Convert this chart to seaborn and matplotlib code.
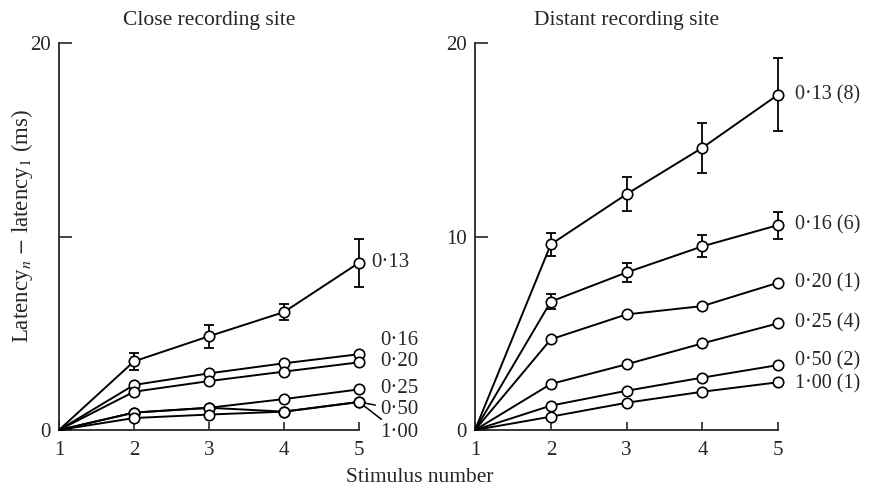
import numpy as np
import pandas as pd
import seaborn as sns
import matplotlib.pyplot as plt

sns.set_style("ticks")
plt.rcParams["font.family"] = ["Liberation Serif", "DejaVu Serif"]
plt.rcParams["mathtext.fontset"] = "stix"

stim = [1, 2, 3, 4, 5]

# close recording site
close_ratios = ["0·13", "0·16", "0·20", "0·25", "0·50", "1·00"]
close_013 = [0, 3.55, 4.85, 6.1, 8.65]
close_016 = [0, 2.33, 2.93, 3.45, 3.92]
close_020 = [0, 1.98, 2.53, 3.02, 3.5]
close_025 = [0, 0.9, 1.15, 1.6, 2.1]
close_050 = [0, 0.9, 1.15, 0.95, 1.45]
close_100 = [0, 0.62, 0.8, 0.95, 1.45]
close_013_err = [0, 0.45, 0.6, 0.42, 1.25]
close_yticklabels = ["0", "", "20"]

# distant recording site
dist_ratios = ["0·13 (8)", "0·16 (6)", "0·20 (1)", "0·25 (4)", "0·50 (2)", "1·00 (1)"]
dist_013 = [0, 9.6, 12.2, 14.6, 17.35]
dist_016 = [0, 6.64, 8.15, 9.5, 10.6]
dist_020 = [0, 4.69, 5.98, 6.41, 7.62]
dist_025 = [0, 2.38, 3.4, 4.48, 5.52]
dist_050 = [0, 1.26, 2.03, 2.71, 3.36]
dist_100 = [0, 0.69, 1.41, 1.98, 2.47]
dist_013_err = [0, 0.6, 0.88, 1.3, 1.88]
dist_016_err = [0, 0.4, 0.5, 0.56, 0.7]
dist_yticklabels = ["0", "10", "20"]

close_vals = [close_013, close_016, close_020, close_025, close_050, close_100]
dist_vals = [dist_013, dist_016, dist_020, dist_025, dist_050, dist_100]


def long_df(ratios, vals):
    rows = []
    for r, v in zip(ratios, vals):
        for s, y in zip(stim, v):
            rows.append({"ratio": r, "stim": s, "lat": y})
    return pd.DataFrame(rows)


fig = plt.figure(figsize=(8.73, 4.92), dpi=100)
ax1 = fig.add_axes([0.0676, 0.126, 0.3436, 0.786])
ax2 = fig.add_axes([0.5441, 0.126, 0.3474, 0.786])


def draw(ax, ratios, vals, errs, title, yticklabels):
    df = long_df(ratios, vals)
    sns.lineplot(data=df, x="stim", y="lat", hue="ratio",
                 palette={r: "black" for r in ratios}, legend=False,
                 marker="o", markersize=7.5, markerfacecolor="white",
                 markeredgecolor="black", markeredgewidth=1.2,
                 markevery=[1, 2, 3, 4], linewidth=1.4,
                 clip_on=False, zorder=3, ax=ax)
    for v, e in errs:
        ax.errorbar(stim[1:], v[1:], yerr=e[1:], fmt="none", ecolor="black",
                    elinewidth=1.3, capsize=3.5, capthick=1.3, zorder=2,
                    clip_on=False)
    ax.set_xlim(1, 5)
    ax.set_ylim(0, 20)
    ax.set_xticks(stim)
    ax.set_yticks([0, 10, 20])
    ax.set_yticklabels(yticklabels)
    ax.tick_params(axis="x", direction="in", length=6, width=1.2,
                   labelsize=15, pad=8)
    ax.tick_params(axis="y", direction="in", length=9, width=1.2,
                   labelsize=15, pad=6)
    ax.set_xlabel("")
    ax.set_ylabel("")
    for s in ["top", "right"]:
        ax.spines[s].set_visible(False)
    for s in ["left", "bottom"]:
        ax.spines[s].set_linewidth(1.3)
    ax.set_title(title, fontsize=15.5, pad=13)


draw(ax1, close_ratios, close_vals, [(close_013, close_013_err)],
     "Close recording site", close_yticklabels)
draw(ax2, dist_ratios, dist_vals,
     [(dist_013, dist_013_err), (dist_016, dist_016_err)],
     "Distant recording site", dist_yticklabels)

# labels on the close panel
close_label_pos = [(5.17, 8.65), (5.28, 4.65), (5.28, 3.52), (5.28, 2.17)]
for r, (x, y) in zip(close_ratios[:4], close_label_pos):
    ax1.text(x, y, r, fontsize=15, ha="left", va="center", clip_on=False)
ax1.annotate(close_ratios[4], xy=(5.0, 1.45), xytext=(5.28, 1.05),
             fontsize=15, ha="left", va="center", annotation_clip=False,
             arrowprops=dict(arrowstyle="-", lw=1.1, color="black",
                             shrinkA=1, shrinkB=5))
ax1.annotate(close_ratios[5], xy=(5.0, 1.45), xytext=(5.28, -0.15),
             fontsize=15, ha="left", va="center", annotation_clip=False,
             arrowprops=dict(arrowstyle="-", lw=1.1, color="black",
                             shrinkA=1, shrinkB=5))

# labels on the distant panel (small nudges keep the bottom two apart)
dist_nudge = [0, 0, 0, 0, 0.2, -0.1]
for r, v, n in zip(dist_ratios, dist_vals, dist_nudge):
    ax2.text(5.22, v[-1] + n, r, fontsize=14.5, ha="left", va="center",
             clip_on=False)

fig.text(22 / 873, 1 - 226 / 492, r"Latency$_n$ $-$ latency$_1$ (ms)",
         rotation=90, ha="center", va="center", fontsize=16.5)
fig.text(420 / 873, 1 - 478 / 492, "Stimulus number", ha="center",
         va="center", fontsize=15.5)

fig.savefig("out.png", dpi=100)
